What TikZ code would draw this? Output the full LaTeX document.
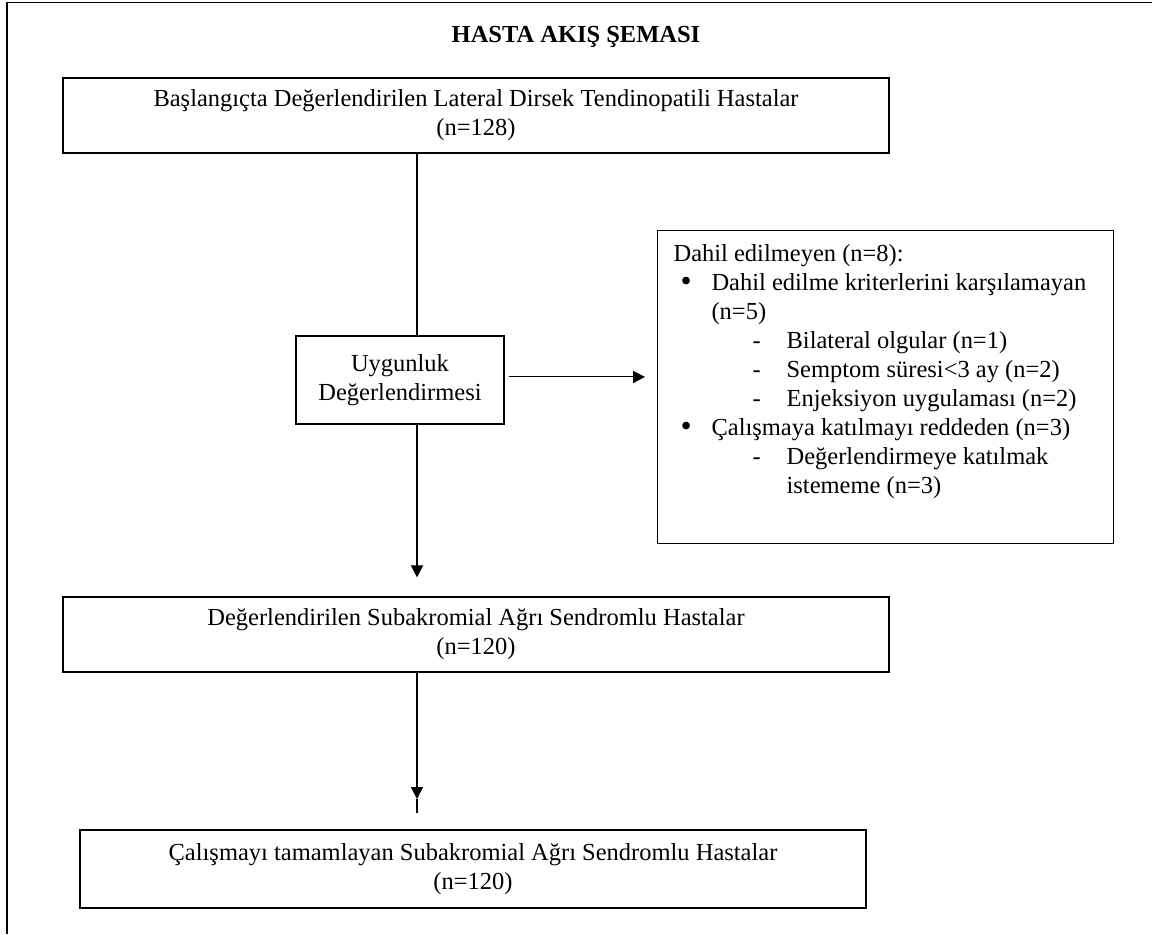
\documentclass[tikz,border=0pt]{standalone}
\usepackage{fontspec}
\setmainfont{Liberation Serif}
\usetikzlibrary{arrows.meta,positioning,calc}
\newcommand{\bul}{\makebox[18.6pt][l]{\hspace{3.4pt}{\fontsize{15.5}{14.2}\selectfont\raisebox{-0.6pt}{•}}}}
\newcommand{\dsh}{\makebox[55.4pt][l]{\hspace{38.7pt}-}}
\tikzset{
 box/.style={draw=black,line width=0.65pt,align=center,inner sep=0pt,font=\fontsize{12}{14.2}\selectfont},
 wide/.style={box,minimum width=404.7pt,minimum height=36.8pt},
 exbox/.style={box,anchor=north west,align=left,inner xsep=7.8pt,inner ysep=6.9pt},
 arr/.style={-{Triangle[length=5.8pt,width=5.9pt]},line width=0.5pt,draw=black},
 conn/.style={line width=0.5pt,draw=black}
}

\begin{document}
\begin{tikzpicture}[x=0.49pt,y=-0.49pt]
\useasboundingbox (0,0) rectangle (1152,934);
\draw[conn] (7,934) -- (7,2.5) -- (1152,2.5);
\node[font=\bfseries\fontsize{12}{14.2}\selectfont,anchor=base] (title) at (576,42) {HASTA AKIŞ ŞEMASI};
\node[wide] (start) at (476,115.5) {Başlangıçta Değerlendirilen Lateral Dirsek Tendinopatili Hastalar\\(n=128)};
\node[box,minimum width=101.9pt,minimum height=43.1pt] (elig) at (400,380) {Uygunluk\\Değerlendirmesi};
\node[exbox] (excl) at (657,230) {\parbox[c][139.6pt][t]{207.8pt}{%
\mbox{Dahil edilmeyen (n=8):}\\
\mbox{\bul Dahil edilme kriterlerini karşılamayan}\\
\mbox{\hspace*{18.6pt}(n=5)}\\
\mbox{\dsh Bilateral olgular (n=1)}\\
\mbox{\dsh Semptom süresi<3 ay (n=2)}\\
\mbox{\dsh Enjeksiyon uygulaması (n=2)}\\
\mbox{\bul Çalışmaya katılmayı reddeden (n=3)}\\
\mbox{\dsh Değerlendirmeye katılmak}\\
\mbox{\hspace*{55.4pt}istememe (n=3)}}};
\node[wide] (assessed) at (476,634.5) {Değerlendirilen Subakromial Ağrı Sendromlu Hastalar\\(n=120)};
\node[box,minimum width=385.1pt,minimum height=38.2pt] (done) at (473,869) {Çalışmayı tamamlayan Subakromial Ağrı Sendromlu Hastalar\\(n=120)};
% connectors
\coordinate (spine) at (417,0);
\coordinate (tip2) at (417,799);
\coordinate (tail2) at (417,813);
\draw[conn] (spine |- start.south) -- (spine |- elig.north);
\draw[arr,shorten >=9.3pt] (spine |- elig.south) -- (spine |- assessed.north);
\draw[arr,shorten <=2pt,shorten >=5.9pt] ([yshift=1.5pt]elig.east) -- ([yshift=1.5pt]elig.east -| excl.west);
\draw[arr] (spine |- assessed.south) -- (tip2);
\draw[conn] (tip2) -- (tail2);
\end{tikzpicture}
\end{document}
